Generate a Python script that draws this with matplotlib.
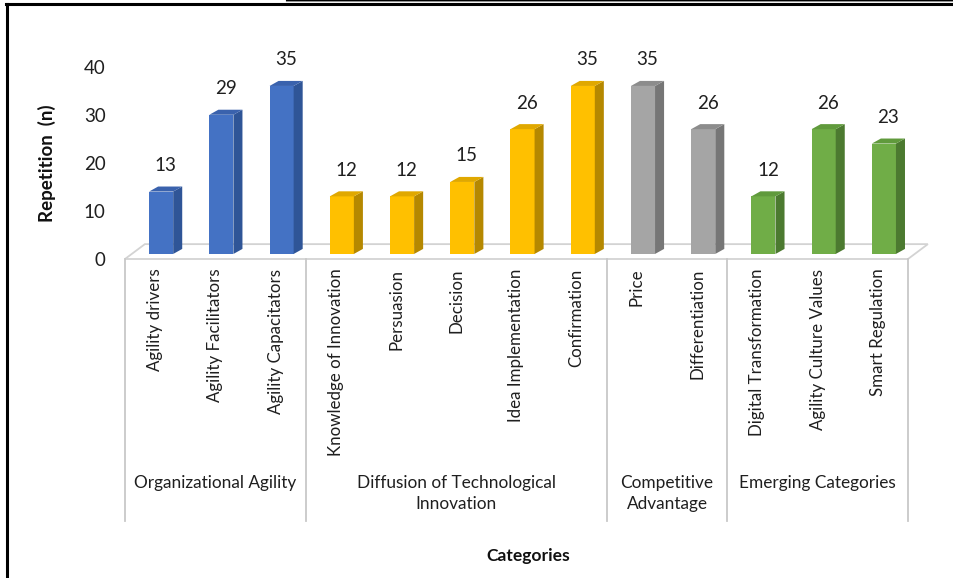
import matplotlib
matplotlib.use("Agg")
import matplotlib.pyplot as plt
from matplotlib.patches import Rectangle, Polygon
from matplotlib.lines import Line2D

plt.rcParams["font.family"] = ["Lato", "DejaVu Sans"]

categories = ["Agility drivers", "Agility Facilitators", "Agility Capacitators",
              "Knowledge of Innovation", "Persuasion", "Decision",
              "Idea Implementation", "Confirmation",
              "Price", "Differentiation",
              "Digital Transformation", "Agility Culture Values", "Smart Regulation"]
values = [13, 29, 35, 12, 12, 15, 26, 35, 35, 26, 12, 26, 23]
groups = ["Organizational Agility", "Diffusion of Technological\nInnovation",
          "Competitive\nAdvantage", "Emerging Categories"]
group_sizes = [3, 5, 2, 3]

# front / side / top colours for each group
palette = [("#4472C4", "#2F5597", "#3A62AD"),
           ("#FFC000", "#B58800", "#E0A800"),
           ("#A5A5A5", "#767676", "#8C8C8C"),
           ("#70AD47", "#4C7A30", "#609A3C")]

# pseudo 3d geometry, in data units
floor_dx, floor_dy = 0.33, 3.1
bar_w = 0.40
bar_off = 0.40
bar_base = 1.05
side_dx, side_dy = 0.15, 1.05

fig = plt.figure(figsize=(9.54, 5.78), dpi=100)
ax = fig.add_axes([125 / 954, 319 / 578, 783 / 954, 192 / 578])
ax.set_xlim(0, len(categories))
ax.set_ylim(0, 40)
for s in ax.spines.values():
    s.set_visible(False)

# floor
ax.add_patch(Polygon([(0, 0), (13, 0), (13 + floor_dx, floor_dy), (floor_dx, floor_dy)],
                     closed=True, facecolor="white", edgecolor="#D3D3D3", lw=1.3,
                     clip_on=False, zorder=1))

i = 0
for g, n in enumerate(group_sizes):
    front, side, top = palette[g]
    for k in range(n):
        v = values[i]
        x0 = i + bar_off
        ax.add_patch(Rectangle((x0, bar_base), bar_w, v, facecolor=front,
                               edgecolor="none", clip_on=False, zorder=3))
        ax.add_patch(Polygon([(x0 + bar_w, bar_base), (x0 + bar_w + side_dx, bar_base + side_dy),
                              (x0 + bar_w + side_dx, bar_base + side_dy + v), (x0 + bar_w, bar_base + v)],
                             closed=True, facecolor=side, edgecolor="none", clip_on=False, zorder=3))
        ax.add_patch(Polygon([(x0, bar_base + v), (x0 + bar_w, bar_base + v),
                              (x0 + bar_w + side_dx, bar_base + v + side_dy), (x0 + side_dx, bar_base + v + side_dy)],
                             closed=True, facecolor=top, edgecolor="none", clip_on=False, zorder=3))
        ax.annotate(str(v), (x0 + (bar_w + side_dx) / 2, bar_base + v + side_dy),
                    xytext=(0, 9), textcoords="offset points", ha="center", va="bottom",
                    fontsize=13.5, color="#1f1f1f", annotation_clip=False)
        i += 1

# category ticks
ax.set_xticks([j + 0.5 for j in range(len(categories))])
ax.set_xticklabels(categories, rotation=90, fontsize=12.2, color="#1f1f1f")
ax.set_yticks([0, 10, 20, 30, 40])
ax.set_yticklabels(["0", "10", "20", "30", "40"], fontsize=13.5, color="#1f1f1f")
ax.tick_params(axis="both", length=0)
ax.tick_params(axis="x", pad=7)
ax.tick_params(axis="y", pad=14)

# group separators and labels
edges = [0]
for n in group_sizes:
    edges.append(edges[-1] + n)
for e in edges:
    ax.plot([e, e], [0, -54.5], color="#C8C8C8", lw=1.3, clip_on=False, zorder=1)
for g, lab in enumerate(groups):
    ax.text((edges[g] + edges[g + 1]) / 2, -45.0, lab, ha="center", va="top",
            fontsize=12.4, color="#1f1f1f", linespacing=1.35)

ax.set_ylabel("Repetition  (n)", fontsize=13.5, fontweight="bold", color="#111111", labelpad=20)
ax.text(6.7, -60.2, "Categories", ha="center", va="top", fontsize=12.6,
        fontweight="bold", color="#111111")

# outer frame (top and left edges)
fig.add_artist(Line2D([6 / 954, 1], [1 - 4 / 578, 1 - 4 / 578], color="black", lw=2.2))
fig.add_artist(Line2D([0.3, 1], [1 - 1.2 / 578, 1 - 1.2 / 578], color="#9a9a9a", lw=0.8))
fig.add_artist(Line2D([0.3, 1], [1 - 0.2 / 578, 1 - 0.2 / 578], color="black", lw=0.8))
fig.add_artist(Line2D([7 / 954, 7 / 954], [0, 1 - 4 / 578], color="black", lw=2.2))

fig.savefig("out.png", dpi=100)
